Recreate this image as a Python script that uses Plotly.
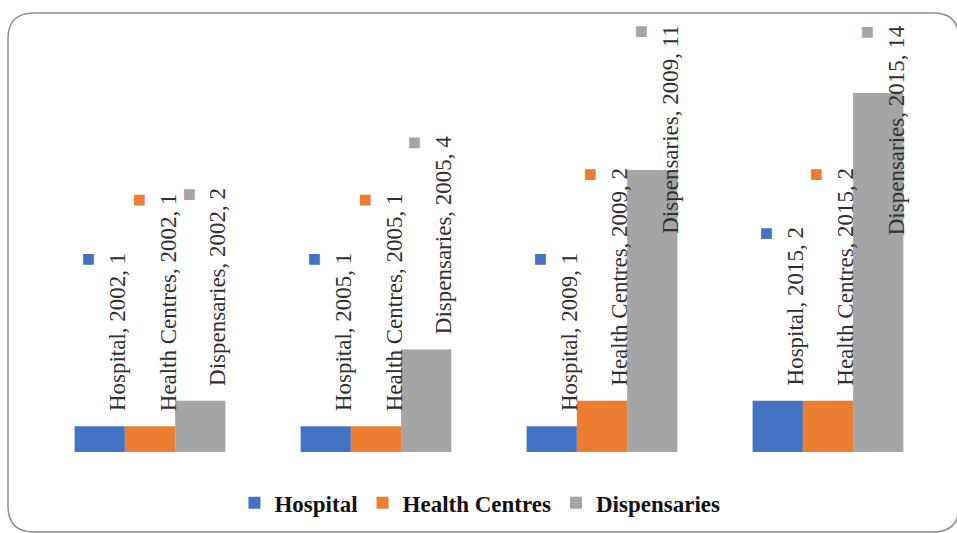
import plotly.graph_objects as go

# Facility counts per survey year
years = ["2002", "2005", "2009", "2015"]
hospital = [1, 1, 1, 2]
health_centres = [1, 1, 2, 2]
dispensaries = [2, 4, 11, 14]

series = [
    ("Hospital", hospital, "#4472C4"),
    ("Health Centres", health_centres, "#ED7D31"),
    ("Dispensaries", dispensaries, "#A5A5A5"),
]

W, H = 957, 533
M = dict(l=37, r=16, t=20, b=81, autoexpand=False)
Y_MAX = 16.85
LABEL_FONT = 23
BAR_SLOT = (1 - 0.333) / 3  # width of one bar in category units

fig = go.Figure()
xs = list(range(len(years)))
for name, vals, color in series:
    fig.add_trace(go.Bar(
        x=xs, y=vals, name=name,
        marker=dict(color=color, line=dict(width=0)),
    ))

plot_h = H - M["t"] - M["b"]
px_per_unit = plot_h / Y_MAX

# Rotated data labels with a legend key, pushed down when they would run past the top
annotations = []
for si, (name, vals, color) in enumerate(series):
    offset = (si - 1) * BAR_SLOT
    for gi, (yr, v) in enumerate(zip(years, vals)):
        label = f"{name}, {yr}, {v}"
        text = f"<span style='color:{color};font-size:22px'>■</span><br>{label}"
        est_len = len(label) * 9.8
        top_px = v * px_per_unit + 16 + est_len
        ann = dict(
            x=gi + offset, xref="x", text=text, textangle=-90,
            showarrow=False, align="right", xanchor="center", xshift=3,
            font=dict(family="Liberation Serif", size=LABEL_FONT, color="#303030"),
        )
        if top_px > plot_h:
            ann.update(y=1, yref="paper", yanchor="top", yshift=-3)
        else:
            ann.update(y=v, yref="y", yanchor="bottom", yshift=13)
        annotations.append(ann)

# Rounded outer frame, given in pixels and converted to paper coordinates
def P(px, py):
    pw = W - M["l"] - M["r"]
    a, b = (px - M["l"]) / pw, 1 - (py - M["t"]) / plot_h
    return f"{a:.5f},{b:.5f}"

x0, y0, x1, y1, r = 8, 13, 959, 532, 26
path = (f"M{P(x0 + r, y0)} L{P(x1 - r, y0)} Q{P(x1, y0)} {P(x1, y0 + r)} "
        f"L{P(x1, y1 - r)} Q{P(x1, y1)} {P(x1 - r, y1)} "
        f"L{P(x0 + r, y1)} Q{P(x0, y1)} {P(x0, y1 - r)} "
        f"L{P(x0, y0 + r)} Q{P(x0, y0)} {P(x0 + r, y0)} Z")

fig.update_layout(
    width=W, height=H, margin=M,
    paper_bgcolor="white", plot_bgcolor="white",
    barmode="group", bargap=0.333, bargroupgap=0,
    xaxis=dict(range=[-0.5, len(years) - 0.5], showticklabels=False, showgrid=False,
               zeroline=False, showline=False, ticks=""),
    yaxis=dict(range=[0, Y_MAX], showticklabels=False, showgrid=False,
               zeroline=False, showline=False, ticks=""),
    showlegend=True,
    legend=dict(orientation="h", x=0.49, xanchor="center", y=-0.068, yanchor="top",
                font=dict(family="Liberation Serif", size=23, color="#111111",
                          weight="bold"),
                itemwidth=30, traceorder="normal"),
    annotations=annotations,
    shapes=[dict(type="path", path=path, xref="paper", yref="paper",
                 line=dict(color="#8f8f8f", width=1.5), layer="below")],
)
fig.write_html("out.html")
